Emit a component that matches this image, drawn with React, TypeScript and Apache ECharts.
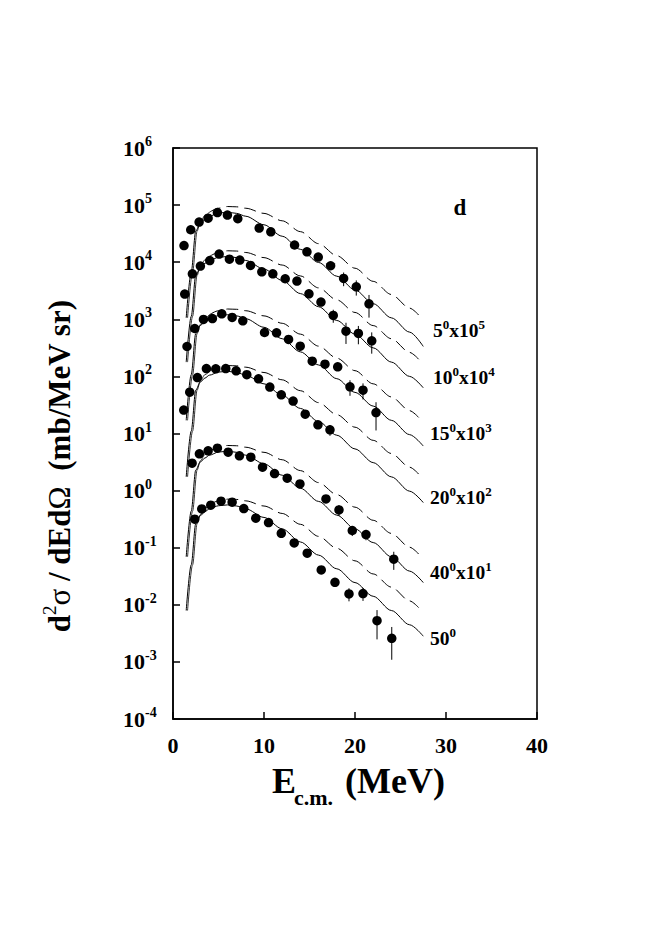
import React, { useEffect, useRef } from "react";
import * as echarts from "echarts";

const SERIF = "'Liberation Serif', 'Times New Roman', serif";

// model curves: energy grids
const curveE = [1.45, 2, 2.5, 3, 3.5, 4, 5, 6, 7, 8, 10, 12, 14, 16, 18, 20, 22, 24, 26, 27.5];
const dashE = [1.6, 2.15, 2.65, 3, 3.5, 4, 5, 6, 7, 8, 10, 12, 14, 16, 18, 20, 22, 24, 26, 27];

// solid model curves
const solid5 = [1060, 6680, 35100, 48400, 56900, 63800, 72400, 75000, 71600, 63800, 45200, 28500, 16800, 9890, 5690, 3270, 1880, 1060, 596, 335];
const solid10 = [178, 1122, 5890, 8130, 9550, 10720, 12160, 12590, 12020, 10720, 7590, 4790, 2820, 1660, 955, 550, 316, 178, 100, 63.1];
const solid15 = [17.0, 107, 562, 776, 912, 1023, 1161, 1202, 1148, 1023, 724, 457, 269, 158.5, 91.2, 52.5, 30.2, 17.0, 9.55, 6.03];
const solid20 = [1.74, 11.0, 57.5, 79.4, 93.3, 105, 119, 123, 117, 105, 74.1, 46.8, 27.5, 16.2, 9.33, 5.37, 3.09, 1.74, 0.977, 0.617];
const solid40 = [0.0692, 0.437, 2.29, 3.16, 3.72, 4.17, 4.73, 4.90, 4.68, 4.17, 2.95, 1.86, 1.10, 0.646, 0.372, 0.214, 0.123, 0.0692, 0.0389, 0.0245];
const solid50 = [0.00794, 0.0501, 0.263, 0.363, 0.427, 0.479, 0.543, 0.562, 0.537, 0.479, 0.339, 0.214, 0.126, 0.0741, 0.0427, 0.0245, 0.0141, 0.00794, 0.00447, 0.00282];

// dashed model curves
const dash5 = [1060, 6680, 35100, 50700, 65300, 75000, 88100, 94400, 93300, 88100, 71600, 53100, 34300, 21100, 13000, 7850, 4620, 2720, 1570, 1190];
const dash10 = [178, 1122, 5890, 8510, 10960, 12590, 14790, 15850, 15670, 14790, 12020, 8910, 5750, 3550, 2190, 1318, 776, 457, 263, 200];
const dash15 = [17.0, 107, 562, 813, 1047, 1202, 1413, 1514, 1496, 1413, 1148, 851, 550, 339, 209, 126, 74.1, 43.7, 25.1, 19.1];
const dash20 = [1.74, 11.0, 57.5, 83.2, 107, 123, 145, 155, 153, 145, 117, 87.1, 56.2, 34.7, 21.4, 12.9, 7.59, 4.47, 2.57, 1.95];
const dash40 = [0.0692, 0.437, 2.29, 3.31, 4.27, 4.90, 5.75, 6.17, 6.10, 5.75, 4.68, 3.47, 2.24, 1.38, 0.851, 0.513, 0.302, 0.178, 0.102, 0.0776];
const dash50 = [0.00794, 0.0501, 0.263, 0.380, 0.490, 0.562, 0.661, 0.708, 0.700, 0.661, 0.537, 0.398, 0.257, 0.158, 0.0977, 0.0589, 0.0347, 0.0204, 0.0117, 0.00891];

// measured points
const e5 = [1.21, 1.95, 2.87, 3.86, 4.88, 5.98, 7.12, 9.47, 10.75, 13.36, 14.72, 15.96, 17.32, 18.75, 20.14, 21.54];
const v5 = [19600, 37000, 50500, 59000, 74000, 67000, 57700, 39600, 34000, 20000, 15200, 12300, 8670, 5200, 3700, 1870];
const err5 = [0, 0, 0, 0, 0, 0, 0, 0, 0, 0, 0, 0, 1000, 1400, 1100, 800];

const e10 = [1.29, 2.13, 3.01, 4.04, 5.07, 6.2, 7.34, 8.52, 9.76, 10.97, 12.33, 13.62, 14.94, 16.26, 17.61, 19.01, 20.37, 21.84];
const v10 = [2770, 6270, 8560, 10700, 13900, 11300, 10900, 8770, 6800, 6270, 5130, 4670, 2800, 2000, 1170, 620, 565, 420];
const err10 = [0, 0, 0, 0, 0, 0, 0, 0, 0, 0, 0, 0, 0, 0, 300, 250, 200, 170];

const e15 = [1.54, 2.39, 3.35, 4.33, 5.36, 6.5, 7.67, 10.06, 11.38, 12.7, 13.98, 15.3, 16.7, 18.1, 19.45, 20.88, 22.31];
const v15 = [334, 690, 993, 1030, 1250, 1080, 942, 587, 580, 444, 339, 185, 164, 147, 65.7, 57.4, 23.3];
const err15 = [0, 0, 0, 0, 0, 0, 0, 0, 0, 0, 0, 0, 0, 0, 20, 18, 12];

const e20 = [1.18, 1.84, 2.68, 3.67, 4.7, 5.8, 6.94, 8.11, 9.4, 10.64, 11.9, 13.2, 14.53, 15.93, 17.25];
const v20 = [25.7, 53, 95.6, 137, 136, 137, 125, 107, 90.7, 64.9, 47.6, 36.9, 21.8, 14.2, 11.6];
const err20 = [0, 0, 0, 0, 0, 0, 0, 0, 0, 0, 0, 0, 0, 0, 2.5];

const e40 = [2.1, 2.9, 3.86, 4.88, 6.06, 7.3, 8.55, 9.84, 11.16, 12.55, 13.95, 16.81, 18.24, 19.7, 21.21, 24.26];
const v40 = [3.02, 4.4, 4.97, 5.53, 4.71, 4.06, 3.85, 2.57, 1.99, 1.65, 1.31, 0.716, 0.459, 0.2, 0.17, 0.0629];
const err40 = [0, 0, 0, 0, 0, 0, 0, 0, 0, 0, 0, 0, 0.1, 0.04, 0.035, 0.022];

const e50 = [2.39, 3.16, 4.15, 5.28, 6.5, 7.78, 9.1, 10.5, 11.9, 13.32, 14.75, 16.29, 17.8, 19.34, 20.88, 22.42, 24.04];
const v50 = [0.316, 0.478, 0.555, 0.653, 0.627, 0.484, 0.329, 0.275, 0.179, 0.121, 0.08, 0.0408, 0.0248, 0.0155, 0.0157, 0.00528, 0.00259];
const err50 = [0, 0, 0, 0, 0, 0, 0, 0, 0, 0, 0, 0, 0.004, 0.004, 0.004, 0.0028, 0.0015];

const groups = [
  { solid: solid5, dash: dash5, e: e5, v: v5, err: err5 },
  { solid: solid10, dash: dash10, e: e10, v: v10, err: err10 },
  { solid: solid15, dash: dash15, e: e15, v: v15, err: err15 },
  { solid: solid20, dash: dash20, e: e20, v: v20, err: err20 },
  { solid: solid40, dash: dash40, e: e40, v: v40, err: err40 },
  { solid: solid50, dash: dash50, e: e50, v: v50, err: err50 },
];

// curve labels: [angle, factor exponent or null]
const curveLabels: [string, string | null][] = [
  ["5", "5"],
  ["10", "4"],
  ["15", "3"],
  ["20", "2"],
  ["40", "1"],
  ["50", null],
];
const yTickExps = [-4, -3, -2, -1, 0, 1, 2, 3, 4, 5, 6];

export default function App() {
  const ref = useRef<HTMLDivElement>(null);
  useEffect(() => {
    if (!ref.current) return;
    const chart = echarts.init(ref.current, undefined, { renderer: "svg" });
    const series: any[] = [];
    const splitIdx = 5;
    groups.forEach((g) => {
      series.push({
        type: "line",
        data: curveE.map((x, i) => [x, g.solid[i]]),
        showSymbol: false,
        smooth: 0.3,
        smoothMonotone: "x",
        lineStyle: { color: "#000", width: 1 },
        silent: true,
        z: 2,
      });
      series.push({
        type: "line",
        data: dashE.slice(0, splitIdx + 1).map((x, i) => [x, g.dash[i]]),
        showSymbol: false,
        smooth: 0.3,
        smoothMonotone: "x",
        lineStyle: { color: "#000", width: 0.8 },
        silent: true,
        z: 2,
      });
      series.push({
        type: "line",
        data: dashE.slice(splitIdx).map((x, i) => [x, g.dash[i + splitIdx]]),
        showSymbol: false,
        smooth: 0.3,
        smoothMonotone: "x",
        lineStyle: { color: "#000", width: 1, type: [12, 6] },
        silent: true,
        z: 2,
      });
      series.push({
        type: "custom",
        renderItem: (params: any, api: any) => {
          const x = api.value(0);
          const y = api.value(1);
          const er = api.value(2);
          const p1 = api.coord([x, y + er]);
          const p2 = api.coord([x, y - er]);
          return {
            type: "line",
            shape: { x1: p1[0], y1: p1[1], x2: p2[0], y2: p2[1] },
            style: { stroke: "#000", lineWidth: 1 },
          };
        },
        data: g.e
          .map((x, i) => [x, g.v[i], g.err[i]])
          .filter((d) => d[2] > 0),
        encode: { x: 0, y: 1 },
        silent: true,
        z: 3,
      });
      series.push({
        type: "scatter",
        data: g.e.map((x, i) => [x, g.v[i]]),
        symbol: "circle",
        symbolSize: 9.5,
        itemStyle: { color: "#000", opacity: 1 },
        silent: true,
        z: 4,
      });
    });

    const labelY = [330, 377, 433, 497, 572, 638];
    const labelX = [433, 433, 430, 430, 430, 430];
    const supRich = {
      n: { fontFamily: SERIF, fontSize: 19.5, fontWeight: "bold", color: "#000", lineHeight: 24 },
      s: { fontFamily: SERIF, fontSize: 13, fontWeight: "bold", color: "#000", lineHeight: 13, verticalAlign: "top" },
    };
    const graphics: any[] = curveLabels.map((lab, i) => ({
      type: "text",
      x: labelX[i],
      y: labelY[i],
      silent: true,
      style: {
        text: lab[1] ? `{n|${lab[0]}}{s|0}{n|x10}{s|${lab[1]}}` : `{n|${lab[0]}}{s|0}`,
        rich: supRich,
        fontSize: 19.5,
        fontWeight: "bold",
        fontFamily: SERIF,
        align: "left",
        verticalAlign: "middle",
      },
    }));
    graphics.push({
      type: "text",
      x: 460,
      y: 207,
      silent: true,
      style: {
        text: "d",
        font: `bold 23px ${SERIF}`,
        fill: "#000",
        align: "center",
        verticalAlign: "middle",
      },
    });
    // x axis title
    graphics.push({
      type: "text", x: 272, y: 781, silent: true,
      style: { text: "E", font: `bold 36px ${SERIF}`, fill: "#000", align: "left", verticalAlign: "middle" },
    });
    graphics.push({
      type: "text", x: 294, y: 797, silent: true,
      style: { text: "c.m.", font: `bold 22px ${SERIF}`, fill: "#000", align: "left", verticalAlign: "middle" },
    });
    graphics.push({
      type: "text", x: 345, y: 781, silent: true,
      style: { text: "(MeV)", font: `bold 36px ${SERIF}`, fill: "#000", align: "left", verticalAlign: "middle" },
    });
    // y axis title
    graphics.push({
      type: "text",
      x: 59,
      y: 466,
      rotation: Math.PI / 2,
      silent: true,
      style: {
        text: "{a|d}{s|2}{g|σ}{a| / dEd}{g|Ω}{a|  (mb/MeV sr)}",
        align: "center",
        verticalAlign: "middle",
        rich: {
          a: { fontFamily: SERIF, fontSize: 31, fontWeight: "bold", color: "#000", lineHeight: 38 },
          s: { fontFamily: SERIF, fontSize: 19, fontWeight: "normal", color: "#000", lineHeight: 19, verticalAlign: "top" },
          g: { fontFamily: SERIF, fontSize: 31, fontWeight: "normal", color: "#000", lineHeight: 38 },
        },
      },
    });

    const option: any = {
      animation: false,
      grid: {
        left: 173,
        top: 148,
        width: 364,
        height: 571,
        show: true,
        borderColor: "#000",
        borderWidth: 1.5,
        backgroundColor: "transparent",
      },
      xAxis: {
        type: "value",
        min: 0,
        max: 40,
        interval: 10,
        axisLine: { show: true, lineStyle: { color: "#000", width: 1.5 } },
        axisTick: { show: true, inside: true, length: 7, lineStyle: { color: "#000", width: 1.5 } },
        splitLine: { show: false },
        axisLabel: {
          color: "#000",
          fontFamily: SERIF,
          fontSize: 22,
          fontWeight: "bold",
          margin: 15,
        },
      },
      yAxis: {
        type: "log",
        logBase: 10,
        min: 1e-4,
        max: 1e6,
        interval: 1,
        axisLine: { show: true, lineStyle: { color: "#000", width: 1.5 } },
        axisTick: { show: true, inside: true, length: 7, lineStyle: { color: "#000", width: 1.5 } },
        minorTick: { show: false },
        splitLine: { show: false },
        axisLabel: {
          margin: 50,
          align: "left",
          color: "#000",
          fontFamily: SERIF,
          fontSize: 22,
          fontWeight: "bold",
          formatter: (v: number) => {
            const ex = Math.round(Math.log10(v));
            if (!yTickExps.includes(ex)) return "";
            return `{b|10}{s|${ex}}`;
          },
          rich: {
            b: { fontFamily: SERIF, fontSize: 22, fontWeight: "bold", color: "#000", lineHeight: 27 },
            s: { fontFamily: SERIF, fontSize: 14, fontWeight: "bold", color: "#000", lineHeight: 14, verticalAlign: "top" },
          },
        },
      },
      series,
      graphic: graphics,
    };
    chart.setOption(option);
    return () => chart.dispose();
  }, []);
  return (
    <div
      ref={ref}
      style={{ position: "fixed", left: 0, top: 0, width: 654, height: 941, background: "#fff" }}
    />
  );
}
